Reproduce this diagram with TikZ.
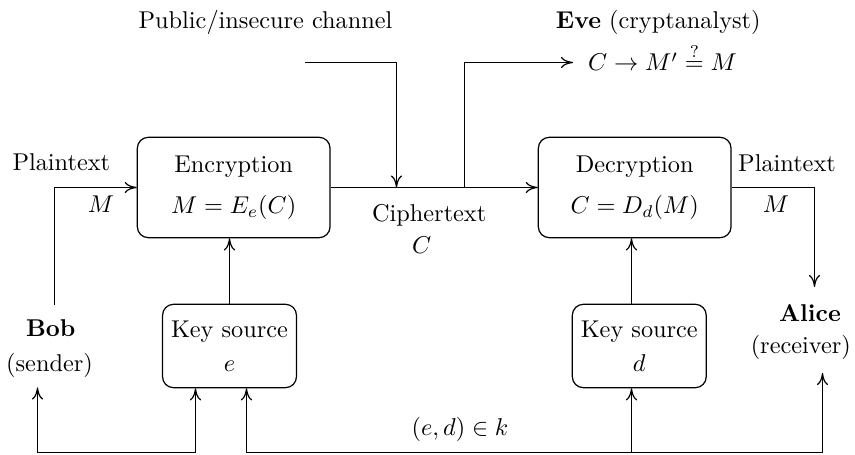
\documentclass[tikz,border=0pt]{standalone}
\usetikzlibrary{arrows.meta}
\begin{document}
\begin{tikzpicture}[x=0.4115pt, y=-0.4115pt, line width=0.5pt,
  >={Computer Modern Rightarrow[length=5pt,width=4.6pt]},
  box/.style={draw, rounded corners=4.5pt, align=center, inner sep=0pt},
  bigbox/.style={box, minimum width=79.3pt, minimum height=41.3pt},
  keybox/.style={box, minimum width=55.1pt, minimum height=34.3pt},
  lbl/.style={inner sep=0pt, anchor=base}]
\useasboundingbox (0,0) rectangle (855,455);

% processing blocks
\node[bigbox] (enc) at (233.7,187.5) {Encryption\\[5pt]$M=E_e(C)$};
\node[bigbox] (dec) at (634.7,187.5) {Decryption\\[5pt]$C=D_d(M)$};
\node[keybox] (keye) at (229.5,346) {Key source\\[2pt]$e$};
\node[keybox] (keyd) at (639.3,346) {Key source\\[2pt]$d$};

% labels
\node[lbl] (chan) at (265.5,29) {Public/insecure channel};
\node[lbl] (eve) at (658.3,29) {\textbf{Eve} (cryptanalyst)};
\node[lbl] (evegoal) at (662.5,71) {$C\to M'\stackrel{?}{=}M$};
\node[lbl] (ptl) at (61.3,171) {Plaintext};
\node[lbl] (ml) at (101,213) {$M$};
\node[lbl] (ptr) at (787,171.7) {Plaintext};
\node[lbl] (mr) at (776,212.7) {$M$};
\node[lbl] (ctext) at (429.2,221.7) {Ciphertext};
\node[lbl] (cvar) at (421.7,253.3) {$C$};
\node[lbl] (bob) at (50.8,336.7) {\textbf{Bob}};
\node[lbl] (bobrole) at (49.5,371.7) {(sender)};
\node[lbl] (alice) at (810,321.7) {\textbf{Alice}};
\node[lbl] (alicerole) at (800.8,354) {(receiver)};
\node[lbl] (keypair) at (460,436) {$(e,d)\in k$};

% connector end points
\coordinate (bobout) at (54.5,305);
\coordinate (chin) at (305,62.5);
\coordinate (chjoin) at (396.5,187.5);
\coordinate (tap) at (464.5,187.5);
\coordinate (eveout) at (573,62.5);
\coordinate (alicein) at (814.5,287);
\coordinate (bobin) at (37.5,387.5);
\coordinate (alicekey) at (822.5,373);
\coordinate (b1) at (37.5,452.5);
\coordinate (b2) at (195.5,452.5);
\coordinate (b3) at (246.5,452.5);
\coordinate (b4) at (631.5,452.5);
\coordinate (b5) at (822.5,452.5);

% message path
\draw[->] (bobout) |- (enc.west);
\draw[->] (enc.east) -- (dec.west);
\draw[->] (dec.east) -| (alicein);
\draw[->] (chin) -| (chjoin);
\draw[->] (tap) |- (eveout);

% keys into the blocks
\draw[->] (keye.north) -- (keye.north |- enc.south);
\draw[->] (b4 |- keyd.north) -- (b4 |- dec.south);

% key distribution
\draw[<->] (bobin) -- (b1) -- (b2) -- (b2 |- keye.south);
\draw[<->] (b3 |- keye.south) -- (b3) -- (b5) -- (alicekey);
\draw[->] (b4) -- (b4 |- keyd.south);
\end{tikzpicture}
\end{document}
